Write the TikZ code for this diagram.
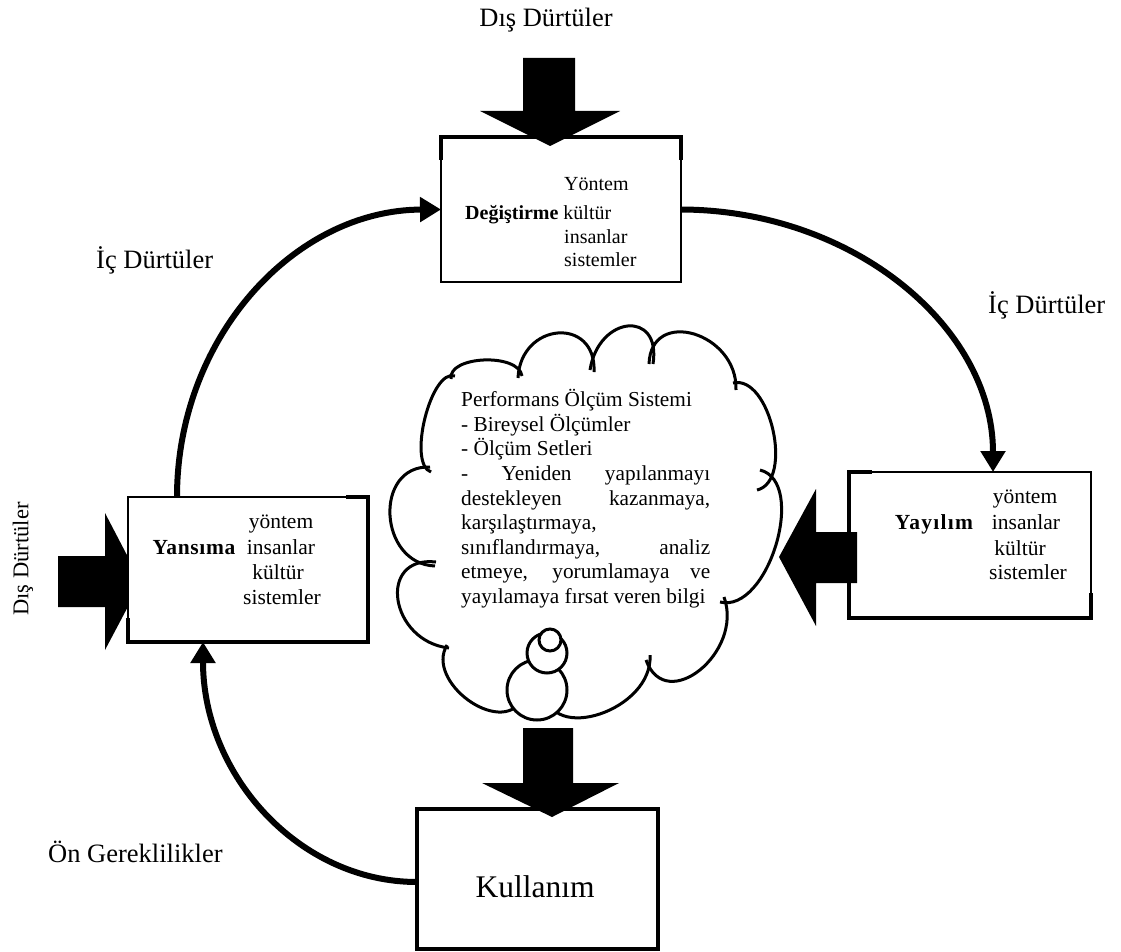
\documentclass[tikz,border=0pt]{standalone}
\usepackage{fontspec}
\setmainfont{Liberation Serif}
\usetikzlibrary{arrows.meta,calc}

% one puff of the thought cloud: from #1 through the crest #2 to #3
\newcommand\cloudlobe[3]{\draw[cloudline] (#1) .. controls ($0.3333*(#1)+1.3333*(#2)-0.6667*(#3)$) and ($0.3333*(#3)+1.3333*(#2)-0.6667*(#1)$) .. (#3);}

\begin{document}
\begin{tikzpicture}[x=1pt,y=-1pt,
  lbl/.style={font=\fontsize{26.5}{31}\selectfont, inner sep=0},
  boxtxt/.style={font=\fontsize{21.5}{25}\selectfont, inner sep=0},
  toptxt/.style={font=\fontsize{20}{24}\selectfont, inner sep=0},
  frame/.style={draw=black, fill=white, line width=1.8pt, outer sep=0pt, inner sep=0pt},
  heavyedge/.style={draw=black, line width=4pt},
  block/.style={fill=black, draw=none},
  flowcurve/.style={draw=black, line width=6pt, -{Triangle[length=21pt,width=24pt]}},
  cloudline/.style={draw=black, line width=3pt},
  bubble/.style={draw=black, fill=white, line width=3pt}]

\useasboundingbox (0,0) rectangle (1121,952);
\fill[white] (0,0) rectangle (1121,952);

% outer impulses entering the reflection stage (partly hidden by its box)
\fill[block] (58,556) -- (105,556) -- (105,513) -- (141,582) -- (105,650) -- (105,607) -- (58,607) -- cycle;

% ---- stage boxes ----
\node[frame, minimum width=240pt, minimum height=145pt, anchor=north west] (deg) at (441,137) {};
\draw[heavyedge] ([yshift=-23pt]deg.north west) -- (deg.north west) -- (deg.north east) -- ([yshift=-23pt]deg.north east);

\node[frame, minimum width=240pt, minimum height=145pt, anchor=north west] (yans) at (128,497) {};
\draw[heavyedge] ([xshift=-22pt]yans.north east) -- (yans.north east) -- (yans.south east) -- (yans.south west) -- ([yshift=24pt]yans.south west);

\node[frame, minimum width=242pt, minimum height=146pt, anchor=north west] (yay) at (849,472) {};
\draw[heavyedge] ([xshift=23pt]yay.north west) -- (yay.north west) -- (yay.south west) -- (yay.south east) -- ([yshift=25pt]yay.south east);

\node[frame, line width=4pt, minimum width=241pt, minimum height=140pt, anchor=north west] (kul) at (417,809) {};

% ---- box texts ----
\node[toptxt, anchor=base west] (degA) at (564,191) {Yöntem};
\node[toptxt, anchor=base west] (degB) at (465,219) {\textbf{Değiştirme} kültür};
\node[toptxt, anchor=base west] (degC) at (564,243) {insanlar};
\node[toptxt, anchor=base west] (degD) at (564,266) {sistemler};

\node[boxtxt, anchor=base, font=\fontsize{21.5}{25}\selectfont\bfseries\addfontfeature{LetterSpace=3}] (yansT) at (194,554) {Yansıma};
\node[boxtxt, anchor=base] (yansA) at (281,528) {yöntem};
\node[boxtxt, anchor=base] (yansB) at (281,554) {insanlar};
\node[boxtxt, anchor=base] (yansC) at (278,579) {kültür};
\node[boxtxt, anchor=base] (yansD) at (282,604) {sistemler};

\node[boxtxt, anchor=base, font=\fontsize{21.5}{25}\selectfont\bfseries\addfontfeature{LetterSpace=6}] (yayT) at (934,529) {Yayılım};
\node[boxtxt, anchor=base] (yayA) at (1025,503) {yöntem};
\node[boxtxt, anchor=base] (yayB) at (1026,529) {insanlar};
\node[boxtxt, anchor=base] (yayC) at (1020,555) {kültür};
\node[boxtxt, anchor=base] (yayD) at (1028,579) {sistemler};

\node[inner sep=0, anchor=base, font=\fontsize{31.5}{36}\selectfont] (kulT) at (535,897) {Kullanım};

% ---- outside labels ----
\node[lbl, anchor=base] (disTop) at (546,27) {Dış Dürtüler};
\node[lbl, anchor=base west] (icLeft) at (96,268) {İç Dürtüler};
\node[lbl, anchor=base west] (icRight) at (988,313) {İç Dürtüler};
\node[lbl, anchor=base west] (onGer) at (48,862) {Ön Gereklilikler};
\node[inner sep=0, font=\fontsize{22.5}{26}\selectfont, rotate=90] (disLeft) at (23,559) {Dış Dürtüler};

% ---- block arrows drawn over the boxes ----
\fill[block] (523,58) -- (575,58) -- (575,111) -- (620,111) -- (550,146) -- (480,111) -- (523,111) -- cycle;
\fill[block] (523,728) -- (573,728) -- (573,783) -- (619,783) -- (552,817) -- (482,783) -- (523,783) -- cycle;
\fill[block] (857,532) -- (816,532) -- (816,489) -- (779,557) -- (816,626) -- (816,583) -- (857,583) -- cycle;

% ---- cycle connectors ----
\draw[flowcurve] ([xshift=49pt]yans.north west) .. controls (177,338) and (294,210) .. (deg.west);
\draw[flowcurve] (deg.east) .. controls (853,210) and (993,327) .. ([xshift=144pt]yay.north west);
\draw[flowcurve] ([yshift=-3pt]kul.west) .. controls (299,882) and (203,775) .. ([xshift=75pt]yans.south west);

% ---- thought cloud ----
\cloudlobe{451,379}{484,360}{522,376}
\cloudlobe{518,378}{558,333}{594,372}
\cloudlobe{590,370}{628,326}{653,364}
\cloudlobe{649,364}{694,334}{736,390}
\cloudlobe{733,383}{773,430}{757,490}
\cloudlobe{760,470}{776,545}{720,602}
\cloudlobe{724,597}{700,670}{646,660}
\cloudlobe{650,655}{600,714}{545,690}
\cloudlobe{522,700}{468,700}{447,645}
\cloudlobe{449,648}{398,600}{436,562}
\cloudlobe{435,566}{390,515}{430,467}
\cloudlobe{431,472}{425,418}{455,376}

\draw[bubble] (537,690) circle[radius=30];
\draw[bubble] (547,653) circle[radius=20];
\draw[bubble] (550,640) circle[radius=11];

\node[inner sep=0, anchor=base west] (pms) at (461,406.6) {\parbox[t]{249pt}{\fontsize{21.3}{24.6}\selectfont
Performans Ölçüm Sistemi\\
- Bireysel Ölçümler\\
- Ölçüm Setleri\\
\makebox[\linewidth][s]{- Yeniden yapılanmayı}\\
\makebox[\linewidth][s]{destekleyen kazanmaya,}\\
karşılaştırmaya,\\
\makebox[\linewidth][s]{sınıflandırmaya, analiz}\\
\makebox[\linewidth][s]{etmeye, yorumlamaya ve}\\
yayılamaya fırsat veren bilgi}};

\end{tikzpicture}
\end{document}
